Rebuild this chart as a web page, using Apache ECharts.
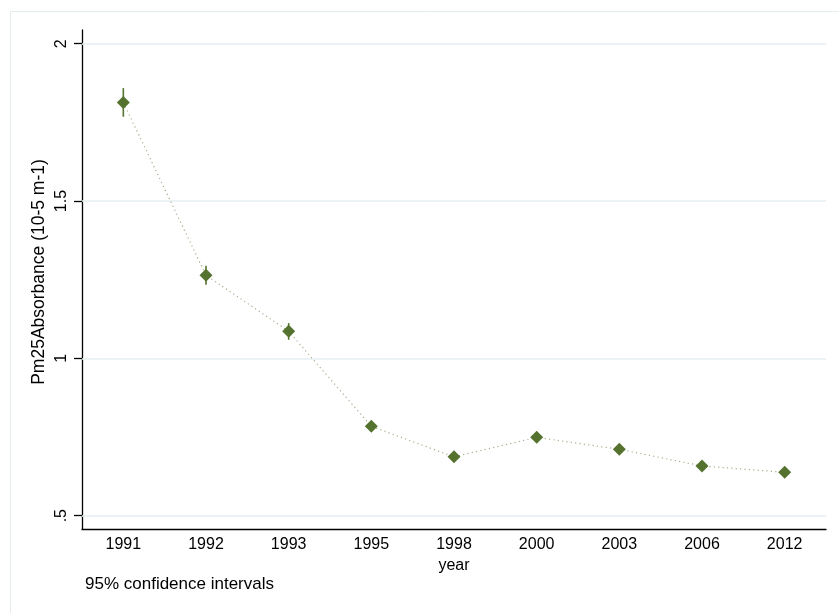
<!DOCTYPE html>
<html>
<head>
<meta charset="utf-8">
<script src="https://cdn.jsdelivr.net/npm/echarts@6/dist/echarts.min.js"></script>
<style>html,body{margin:0;padding:0;background:#fff;}#c{width:839px;height:613px;}</style>
</head>
<body>
<div id="c"></div>
<script>
const years = ['1991','1992','1993','1995','1998','2000','2003','2006','2012'];
const means = [1.813, 1.264, 1.086, 0.784, 0.687, 0.749, 0.711, 0.658, 0.638];
const ciLow = [1.768, 1.234, 1.059, 0.774, 0.679, 0.740, 0.703, 0.650, 0.630];
const ciHigh = [1.859, 1.294, 1.112, 0.794, 0.695, 0.758, 0.719, 0.666, 0.646];
const yTicks = [0.5, 1, 1.5, 2];
const yTitle = 'Pm25Absorbance (10-5 m-1)';
const xTitle = 'year';
const note = '95% confidence intervals';

const green = '#55732f';
const font = 'Liberation Sans, Arial, sans-serif';

const chart = echarts.init(document.getElementById('c'), null, {renderer: 'canvas'});
chart.setOption({
  animation: false,
  backgroundColor: '#fff',
  graphic: [{
    type: 'rect', left: 8, top: 9, shape: {width: 840, height: 620},
    style: {fill: 'none', stroke: '#e4eced', lineWidth: 1}, silent: true
  }, {
    type: 'text', left: 85, top: 576,
    style: {text: note, font: '17px ' + font, fill: '#000'}
  }, {
    type: 'text', x: 39, y: 272, rotation: Math.PI / 2,
    style: {text: yTitle, font: '17.5px ' + font, fill: '#000', align: 'center', verticalAlign: 'middle'}
  }],
  grid: {left: 82, right: 13, top: 30, bottom: 84, containLabel: false},
  xAxis: {
    type: 'category', data: years, boundaryGap: true,
    name: xTitle, nameLocation: 'middle', nameGap: 21,
    nameTextStyle: {fontSize: 16, fontFamily: font, color: '#000'},
    axisLine: {lineStyle: {color: '#000', width: 1.3}},
    axisTick: {show: false},
    axisLabel: {fontSize: 16, fontFamily: font, color: '#000', margin: 8},
    splitLine: {show: false}
  },
  yAxis: {
    type: 'value', min: 0.4577, max: 2.0436,
    axisLine: {show: true, lineStyle: {color: '#000', width: 1.3}},
    axisTick: {show: true, length: 8, customValues: yTicks, lineStyle: {color: '#000', width: 1.3}},
    axisLabel: {
      customValues: yTicks, rotate: 90, fontSize: 16, fontFamily: font, color: '#000', margin: 12,
      formatter: v => (v === 0.5 ? '.5' : String(v))
    },
    splitLine: {show: false}
  },
  series: [{
    type: 'line', data: means, symbol: 'diamond', symbolSize: 13,
    itemStyle: {color: green},
    lineStyle: {color: '#a7b08c', width: 1.2, type: [1.2, 3.2]},
    z: 3,
    markLine: {
      silent: true, symbol: 'none', label: {show: false},
      lineStyle: {color: '#e6eff0', width: 1.5, type: 'solid'},
      data: yTicks.map(v => ({yAxis: v})),
      z: 1
    }
  }, {
    type: 'custom',
    data: years.map((y, i) => [i, ciLow[i], ciHigh[i]]),
    renderItem: function (params, api) {
      const lo = api.coord([api.value(0), api.value(1)]);
      const hi = api.coord([api.value(0), api.value(2)]);
      return {
        type: 'line',
        shape: {x1: lo[0], y1: lo[1], x2: hi[0], y2: hi[1]},
        style: {stroke: green, lineWidth: 1.6}
      };
    },
    encode: {x: 0, y: [1, 2]},
    z: 4
  }]
});
</script>
</body>
</html>
